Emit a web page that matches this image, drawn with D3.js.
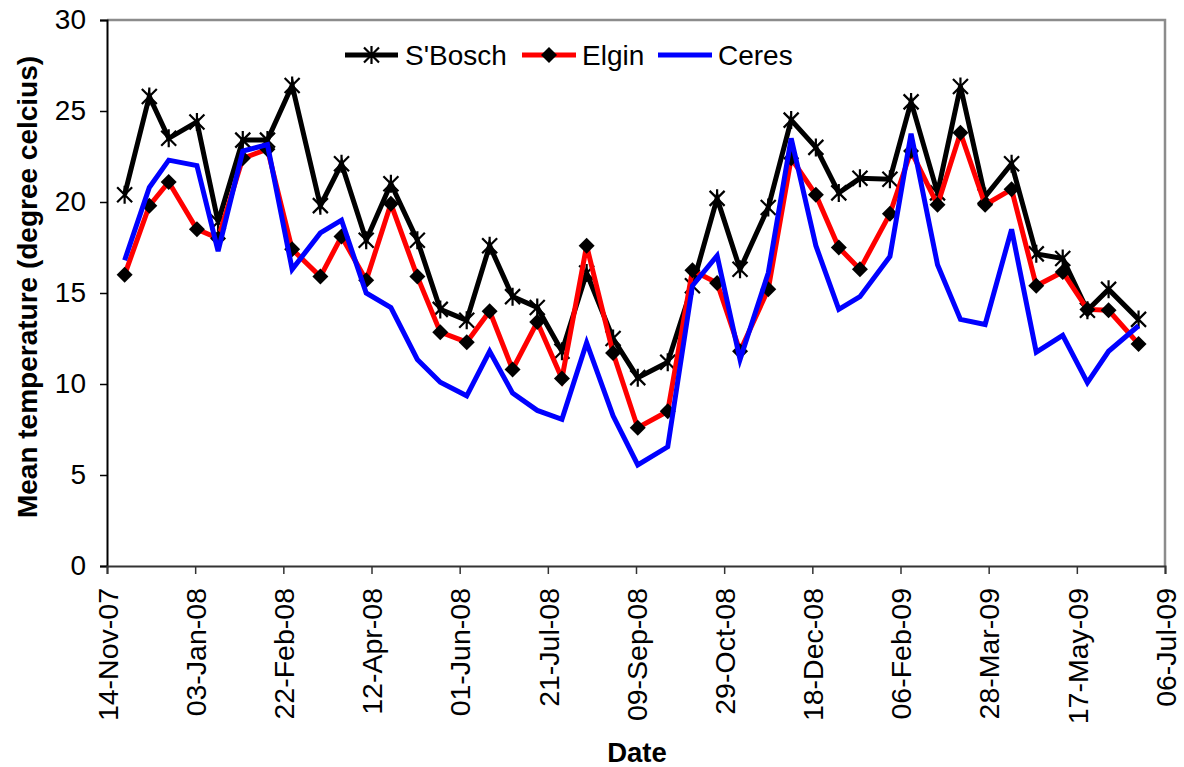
<!DOCTYPE html>
<html>
<head>
<meta charset="utf-8">
<script src="https://cdn.jsdelivr.net/npm/d3@7/dist/d3.min.js"></script>
<style>
  html, body { margin: 0; padding: 0; background: #fff; }
  svg { display: block; font-family: "Liberation Sans", Arial, sans-serif; }
</style>
</head>
<body>
<svg id="chart" width="1184" height="767"></svg>
<script>
const dates = ["24-Nov-07","08-Dec-07","19-Dec-07","04-Jan-08","16-Jan-08","30-Jan-08","13-Feb-08","27-Feb-08",
  "14-Mar-08","26-Mar-08","09-Apr-08","23-Apr-08","08-May-08","21-May-08","05-Jun-08","18-Jun-08","01-Jul-08",
  "15-Jul-08","29-Jul-08","12-Aug-08","27-Aug-08","10-Sep-08","27-Sep-08","11-Oct-08","25-Oct-08","07-Nov-08",
  "23-Nov-08","06-Dec-08","20-Dec-08","02-Jan-09","14-Jan-09","31-Jan-09","12-Feb-09","27-Feb-09","12-Mar-09",
  "26-Mar-09","10-Apr-09","24-Apr-09","09-May-09","23-May-09","04-Jun-09","21-Jun-09"];
const sBosch = [20.4,25.8,23.5,24.4,18.9,23.4,23.4,26.4,19.8,22.1,17.9,21.0,17.9,14.1,13.5,17.6,14.8,14.2,11.8,16.1,
  12.5,10.35,11.2,15.4,20.2,16.3,19.7,24.5,23.0,20.5,21.3,21.25,25.5,20.5,26.35,20.3,22.1,17.15,16.9,14.05,15.2,13.55];
const elgin = [16.0,19.8,21.1,18.5,18.0,22.4,22.9,17.4,15.9,18.1,15.7,19.9,15.9,12.85,12.3,14.0,10.8,13.4,10.3,17.6,
  11.7,7.6,8.5,16.25,15.55,11.8,15.2,22.4,20.4,17.5,16.3,19.35,22.8,19.85,23.8,19.85,20.7,15.4,16.15,14.1,14.05,12.2];
const ceres = [16.8,20.8,22.3,22.0,17.3,22.8,23.15,16.3,18.3,19.0,15.0,14.2,11.35,10.1,9.35,11.8,9.5,8.55,8.06,12.27,
  8.25,5.55,6.55,15.4,17.05,11.35,16.1,23.5,17.6,14.1,14.8,17.0,23.75,16.55,13.55,13.27,18.5,11.75,12.67,10.08,11.8,13.2];
const xTickLabels = ["14-Nov-07","03-Jan-08","22-Feb-08","12-Apr-08","01-Jun-08","21-Jul-08","09-Sep-08",
  "29-Oct-08","18-Dec-08","06-Feb-09","28-Mar-09","17-May-09","06-Jul-09"];
const yTicks = [0,5,10,15,20,25,30];
const seriesNames = ["S'Bosch","Elgin","Ceres"];
const seriesColors = ["#000000","#ff0000","#0000ff"];

const parse = d3.utcParse("%d-%b-%y");
const svg = d3.select("#chart");
const L = 107, R = 1165, T = 20, B = 566;
const FONT = "'Liberation Sans', Arial, sans-serif";

const tickDates = xTickLabels.map(parse);
const x = d3.scaleUtc().domain([tickDates[0], tickDates[tickDates.length-1]]).range([L, R]);
const y = d3.scaleLinear().domain([0, 30]).range([B, T]);

// plot frame (top/right gray)
svg.append("path").attr("d", `M${L},${T}H${R}V${B}`).attr("fill","none")
  .attr("stroke","#8c8c8c").attr("stroke-width",2.5);

// Y axis
const yAxis = svg.append("g").attr("transform",`translate(${L},0)`)
  .call(d3.axisLeft(y).tickValues(yTicks).tickSize(7).tickPadding(14).tickFormat(d3.format("d")));
yAxis.select(".domain").attr("stroke","#000").attr("stroke-width",2);
yAxis.selectAll(".tick line").attr("stroke","#000").attr("stroke-width",1.5);
yAxis.selectAll("text").attr("font-size",28).attr("fill","#000").attr("font-family",FONT);

// X axis
const xAxis = svg.append("g").attr("transform",`translate(0,${B})`)
  .call(d3.axisBottom(x).tickValues(tickDates).tickSize(8).tickFormat((d,i)=>xTickLabels[i]));
xAxis.select(".domain").attr("stroke","#333").attr("stroke-width",2);
xAxis.selectAll(".tick line").attr("stroke","#333").attr("stroke-width",1.5);
xAxis.selectAll("text").attr("font-size",28.5).attr("fill","#000").attr("font-family",FONT)
  .attr("text-anchor","end").attr("transform","rotate(-90)")
  .attr("x",-22).attr("y",0).attr("dy","0.36em");

// Axis titles
svg.append("text").attr("x",637).attr("y",762).attr("text-anchor","middle")
  .attr("font-size",27.5).attr("font-weight","bold").text("Date");
svg.append("text").attr("transform","translate(37,287) rotate(-90)").attr("text-anchor","middle")
  .attr("font-size",28).attr("font-weight","bold").text("Mean temperature (degree celcius)");

// Series
const pts = dates.map(parse);
const line = d3.line().x((d,i)=>x(pts[i])).y(d=>y(d));
const allSeries = [sBosch, elgin, ceres];

function starPath(s){ // X with vertical bar
  return `M${-s},${-s}L${s},${s}M${-s},${s}L${s},${-s}M0,${-s*1.2}L0,${s*1.2}`;
}
function diamondPath(s){
  return `M0,${-s}L${s},0L0,${s}L${-s},0Z`;
}

allSeries.forEach((vals, k) => {
  const g = svg.append("g");
  g.append("path").datum(vals).attr("d", line).attr("fill","none")
    .attr("stroke", seriesColors[k]).attr("stroke-width",5).attr("stroke-linejoin","miter");
  if (k === 0) {
    g.selectAll("path.m").data(vals).enter().append("path").attr("class","m")
      .attr("transform",(d,i)=>`translate(${x(pts[i])},${y(d)})`)
      .attr("d", starPath(7.5)).attr("stroke","#000").attr("stroke-width",2.2).attr("fill","none");
  } else if (k === 1) {
    g.selectAll("path.m").data(vals).enter().append("path").attr("class","m")
      .attr("transform",(d,i)=>`translate(${x(pts[i])},${y(d)})`)
      .attr("d", diamondPath(8)).attr("fill","#000");
  }
});

// Legend
const legendItems = [
  {lx1:345, lx2:398, tx:405},
  {lx1:522, lx2:576, tx:582},
  {lx1:658, lx2:712, tx:718}
];
const ly = 55;
legendItems.forEach((it, k) => {
  svg.append("line").attr("x1",it.lx1).attr("x2",it.lx2).attr("y1",ly).attr("y2",ly)
    .attr("stroke",seriesColors[k]).attr("stroke-width",5);
  const cx = (it.lx1+it.lx2)/2;
  if (k===0) svg.append("path").attr("transform",`translate(${cx},${ly})`).attr("d",starPath(7.5))
    .attr("stroke","#000").attr("stroke-width",2.2).attr("fill","none");
  if (k===1) svg.append("path").attr("transform",`translate(${cx},${ly})`).attr("d",diamondPath(8))
    .attr("fill","#000");
  svg.append("text").attr("x",it.tx).attr("y",ly).attr("dy","0.36em").attr("font-size",28)
    .text(seriesNames[k]);
});
</script>
</body>
</html>
